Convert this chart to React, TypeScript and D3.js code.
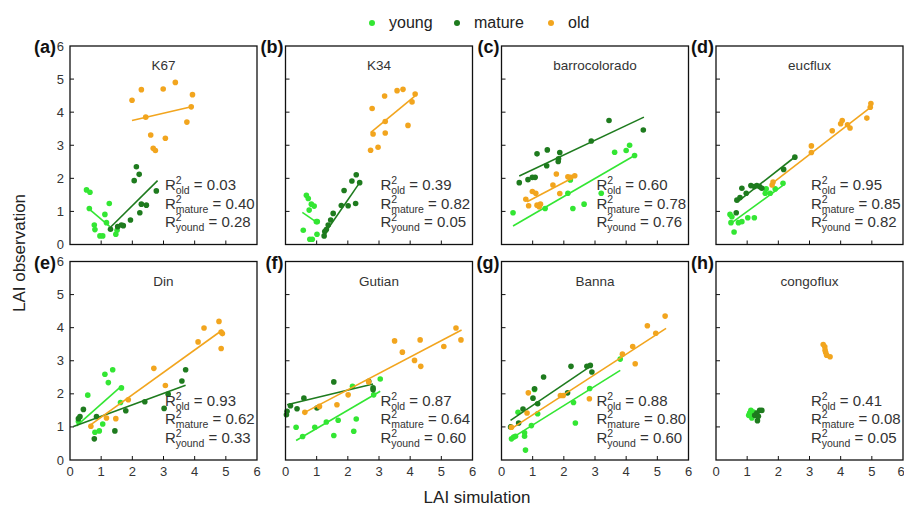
import React from "react";
import { scaleLinear, line } from "d3";

// series
const seriesNames = ["young", "mature", "old"];
const seriesColors = ["#33e633", "#1e7b1e", "#f2a51e"];

const panelLabels = ["(a)", "(b)", "(c)", "(d)", "(e)", "(f)", "(g)", "(h)"];
const siteNames = ["K67", "K34", "barrocolorado", "eucflux", "Din", "Gutian", "Banna", "congoflux"];
const r2Old = ["0.03", "0.39", "0.60", "0.95", "0.93", "0.87", "0.88", "0.41"];
const r2Mature = ["0.40", "0.82", "0.78", "0.85", "0.62", "0.64", "0.80", "0.08"];
const r2Young = ["0.28", "0.05", "0.76", "0.82", "0.33", "0.60", "0.60", "0.05"];
const axisTicks = [0, 1, 2, 3, 4, 5, 6];

// (a) K67
const k67Young = [[0.53, 1.65], [0.64, 1.58], [0.62, 1.09], [0.78, 0.59], [0.8, 0.45], [0.96, 0.26], [1.05, 0.26], [1.12, 0.91], [1.17, 0.66], [1.26, 1.24], [1.47, 0.31], [1.51, 0.43]];
const k67Mature = [[1.3, 0.46], [1.53, 0.54], [1.65, 0.59], [1.71, 0.57], [1.94, 0.74], [2.06, 1.93], [2.13, 2.35], [2.22, 2.12], [2.24, 0.96], [2.29, 1.22], [2.45, 1.19], [2.77, 1.62]];
const k67Old = [[1.99, 4.36], [2.29, 4.68], [2.43, 3.85], [2.59, 3.31], [2.67, 2.91], [2.74, 2.84], [2.99, 4.7], [3.06, 3.21], [3.38, 4.9], [3.75, 3.7], [3.89, 4.16], [3.93, 4.53]];
const k67Fits = [[[0.59, 1.09], [1.28, 0.54]], [[1.3, 0.52], [2.81, 1.93]], [[1.99, 3.75], [3.93, 4.17]]];

// (b) K34
const k34Young = [[0.67, 1.49], [0.73, 1.39], [0.76, 1.04], [0.83, 1.22], [0.92, 1.16], [0.57, 0.43], [0.78, 0.16], [0.86, 0.16], [0.99, 0.69], [1.02, 0.69], [1.01, 0.31]];
const k34Mature = [[1.24, 0.26], [1.26, 0.39], [1.31, 0.45], [1.37, 0.59], [1.45, 0.74], [1.53, 0.94], [1.79, 1.18], [1.88, 1.63], [2.01, 1.17], [2.13, 1.92], [2.27, 2.11], [2.25, 1.24], [2.38, 1.87]];
const k34Old = [[2.78, 4.11], [3.18, 4.49], [3.58, 4.65], [3.77, 4.69], [4.16, 4.55], [4.06, 4.31], [3.93, 3.6], [3.2, 3.37], [3.2, 3.72], [2.81, 3.34], [2.73, 2.85], [2.97, 2.94]];
const k34Fits = [[[0.54, 0.97], [1.05, 0.64]], [[1.24, 0.31], [2.38, 1.87]], [[2.73, 3.38], [4.16, 4.49]]];

// (c) barrocolorado
const barroYoung = [[0.37, 0.96], [1.4, 1.09], [2.13, 1.55], [2.21, 1.95], [2.29, 1.09], [2.65, 1.22], [3.2, 1.55], [3.63, 2.79], [4.0, 2.84], [4.11, 3.0], [4.27, 2.69]];
const barroMature = [[0.57, 1.87], [0.85, 1.96], [0.99, 2.03], [1.08, 2.03], [1.14, 2.74], [1.45, 2.38], [1.47, 2.86], [1.82, 2.51], [1.87, 2.78], [1.83, 2.59], [2.88, 3.13], [3.45, 3.75], [4.55, 3.46]];
const barroOld = [[0.78, 1.37], [0.87, 1.17], [0.99, 1.6], [1.1, 1.55], [1.14, 1.19], [1.25, 1.22], [1.21, 1.14], [1.65, 1.8], [1.76, 2.13], [1.87, 1.54], [2.13, 2.05], [2.22, 2.03], [2.35, 2.08]];
const barroFits = [[[0.37, 0.56], [4.27, 2.69]], [[0.57, 2.07], [4.57, 3.85]], [[0.82, 1.29], [2.29, 2.02]]];

// (d) eucflux
const eucYoung = [[0.45, 0.91], [0.51, 0.84], [0.48, 0.66], [0.58, 0.38], [0.72, 0.66], [0.83, 0.69], [1.02, 0.81], [1.23, 0.81], [1.61, 1.68], [1.74, 1.55], [1.9, 1.68], [2.15, 1.85], [1.58, 1.55]];
const eucMature = [[0.67, 1.34], [0.77, 1.42], [0.83, 1.7], [0.97, 1.55], [1.12, 1.78], [1.23, 1.75], [1.31, 1.78], [1.4, 1.75], [1.47, 1.7], [2.17, 2.27], [2.53, 2.64], [0.65, 0.96]];
const eucOld = [[1.8, 1.8], [1.83, 1.89], [3.06, 2.98], [3.06, 2.78], [3.73, 3.44], [4.0, 3.65], [4.05, 3.75], [4.22, 3.62], [4.3, 3.52], [4.97, 4.26], [4.95, 4.15], [4.84, 3.82]];
const eucFits = [[[0.51, 0.66], [2.17, 1.8]], [[0.69, 1.29], [2.55, 2.66]], [[1.74, 1.8], [4.99, 4.17]]];

// (e) Din
const dinYoung = [[0.27, 1.16], [0.57, 1.96], [0.8, 0.84], [0.94, 0.88], [1.05, 1.09], [1.12, 2.59], [1.23, 2.34], [1.37, 2.73], [1.62, 1.74], [1.65, 2.18]];
const dinMature = [[0.27, 1.25], [0.32, 1.31], [0.43, 1.53], [0.85, 1.31], [0.78, 0.64], [1.44, 0.88], [1.79, 1.49], [2.4, 1.76], [3.02, 1.56], [3.15, 1.99], [3.59, 2.39], [3.71, 2.73]];
const dinOld = [[0.67, 1.02], [1.17, 1.27], [1.47, 1.25], [1.87, 1.82], [2.69, 2.77], [3.06, 2.25], [4.11, 3.57], [4.3, 3.99], [4.78, 4.19], [4.85, 3.87], [4.89, 3.82], [4.85, 3.37]];
const dinFits = [[[0.21, 1.03], [1.65, 2.23]], [[0.11, 1.01], [3.71, 2.26]], [[0.67, 1.07], [4.89, 3.93]]];

// (f) Gutian
const gutianYoung = [[0.34, 0.99], [0.94, 0.99], [1.31, 1.15], [1.69, 1.2], [1.55, 0.74], [2.15, 2.23], [2.19, 0.87], [2.27, 1.24], [2.83, 1.97], [3.04, 2.45], [0.55, 0.71]];
const gutianMature = [[0.05, 1.47], [0.16, 1.64], [0.37, 1.55], [0.59, 1.87], [1.01, 1.57], [1.55, 2.36], [2.67, 2.38], [2.81, 2.18], [2.81, 2.12], [0.03, 1.37]];
const gutianOld = [[0.62, 1.44], [1.09, 1.62], [1.65, 1.67], [2.01, 1.97], [2.67, 2.36], [3.5, 3.6], [3.75, 3.26], [4.14, 3.01], [4.32, 3.63], [4.34, 2.83], [5.08, 3.43], [5.47, 3.99], [5.63, 3.63]];
const gutianFits = [[[0.34, 0.59], [3.04, 2.08]], [[0.05, 1.67], [2.81, 2.3]], [[0.62, 1.44], [5.65, 3.93]]];

// (g) Banna
const bannaYoung = [[0.32, 0.64], [0.39, 0.69], [0.45, 0.72], [0.53, 1.44], [0.74, 0.82], [0.74, 0.72], [0.77, 0.3], [0.96, 1.04], [1.06, 2.13], [1.16, 1.4], [2.31, 1.74], [2.37, 1.12], [2.83, 2.16], [3.81, 3.05]];
const bannaMature = [[0.55, 1.12], [0.69, 1.54], [1.01, 1.87], [1.06, 2.15], [1.16, 1.7], [1.35, 2.51], [2.12, 2.03], [2.23, 2.83], [2.74, 2.83], [2.85, 2.86], [2.9, 2.66], [0.29, 1.0]];
const bannaOld = [[0.32, 0.99], [0.82, 1.42], [0.86, 2.03], [1.89, 1.95], [1.98, 1.95], [2.82, 1.85], [3.88, 3.2], [4.29, 2.91], [4.21, 3.43], [4.68, 4.06], [4.95, 3.83], [5.25, 4.35]];
const bannaFits = [[[0.29, 0.64], [3.81, 2.71]], [[0.29, 1.2], [2.85, 2.83]], [[0.27, 0.92], [5.28, 3.98]]];

// (h) congoflux
const congoYoung = [[1.08, 1.42], [1.12, 1.5], [1.15, 1.27], [1.05, 1.35], [1.2, 1.45]];
const congoMature = [[1.31, 1.42], [1.4, 1.5], [1.47, 1.5], [1.33, 1.19], [1.24, 1.35], [1.36, 1.32]];
const congoOld = [[3.44, 3.49], [3.49, 3.42], [3.52, 3.25], [3.55, 3.17], [3.66, 3.12], [3.5, 3.32]];
const congoFits = [null, null, null];

const panelSeries = [
  [k67Young, k67Mature, k67Old],
  [k34Young, k34Mature, k34Old],
  [barroYoung, barroMature, barroOld],
  [eucYoung, eucMature, eucOld],
  [dinYoung, dinMature, dinOld],
  [gutianYoung, gutianMature, gutianOld],
  [bannaYoung, bannaMature, bannaOld],
  [congoYoung, congoMature, congoOld],
];
const panelFits = [k67Fits, k34Fits, barroFits, eucFits, dinFits, gutianFits, bannaFits, congoFits];

const font = "'Liberation Sans', Arial, sans-serif";
const colLeft = [70, 285.5, 501.5, 716];
const rowTop = [46, 261.5];
const pw = 187;
const ph = 198.5;

function R2Line({ x, y, sub, value }) {
  return (
    <text x={x} y={y} fontSize={15} fill="#333">
      <tspan>R</tspan>
      <tspan dy={-6} fontSize={10.5}>2</tspan>
      <tspan dx={-6} dy={10} fontSize={10.5}>{sub}</tspan>
      <tspan dy={-4}>{" = " + value}</tspan>
    </text>
  );
}

function Panel({ i }) {
  const col = i % 4;
  const row = Math.floor(i / 4);
  const left = colLeft[col];
  const top = rowTop[row];
  const x = scaleLinear().domain([0, 6]).range([left, left + pw]);
  const y = scaleLinear().domain([0, 6]).range([top + ph, top]);
  const lineGen = line<number[]>()
    .x((d) => x(d[0]))
    .y((d) => y(d[1]));
  const series = panelSeries[i];
  const fits = panelFits[i];
  return (
    <g>
      {series.map((pts, s) => (
        <g key={s}>
          {pts.map((p, k) => (
            <circle key={k} cx={x(p[0])} cy={y(p[1])} r={2.8} fill={seriesColors[s]} />
          ))}
          {fits[s] && (
            <path d={lineGen(fits[s]) || ""} fill="none" stroke={seriesColors[s]} strokeWidth={1.6} />
          )}
        </g>
      ))}
      <rect x={left} y={top} width={pw} height={ph} fill="none" stroke="#111" strokeWidth={1.3} />
      {axisTicks.slice(1, 6).map((t) => (
        <g key={t}>
          <line x1={left} x2={left + 4} y1={y(t)} y2={y(t)} stroke="#111" strokeWidth={1} />
          <line x1={x(t)} x2={x(t)} y1={top + ph} y2={top + ph - 4} stroke="#111" strokeWidth={1} />
        </g>
      ))}
      {col === 0 &&
        axisTicks.map((t) => (
          <text key={t} x={left - 6} y={y(t) + 4.5} fontSize={13} textAnchor="end" fill="#333">
            {t}
          </text>
        ))}
      {row === 1 &&
        axisTicks.map((t) => (
          <text key={t} x={t === 6 && col === 3 ? x(t) - 2 : x(t)} y={top + ph + 16} fontSize={13} textAnchor="middle" fill="#333">
            {t}
          </text>
        ))}
      <text
        x={col === 0 ? left - 14 : left - 2}
        y={top + 7}
        fontSize={18}
        fontWeight="bold"
        textAnchor="end"
        fill="#111"
      >
        {panelLabels[i]}
      </text>
      <text x={left + pw / 2} y={top + 24} fontSize={13.5} textAnchor="middle" fill="#333">
        {siteNames[i]}
      </text>
      <R2Line x={left + 95} y={top + 144} sub="old" value={r2Old[i]} />
      <R2Line x={left + 95} y={top + 162.5} sub="mature" value={r2Mature[i]} />
      <R2Line x={left + 95} y={top + 181} sub="yound" value={r2Young[i]} />
    </g>
  );
}

const legendX = [372, 457, 551];

export default function App() {
  return (
    <div style={{ position: "absolute", left: 0, top: 0 }}>
      <svg width={904} height={509} style={{ fontFamily: font, background: "white", display: "block" }}>
        {seriesNames.map((n, s) => (
          <g key={n}>
            <circle cx={legendX[s]} cy={23} r={3} fill={seriesColors[s]} />
            <text x={legendX[s] + 17} y={28} fontSize={16} fill="#222">
              {n}
            </text>
          </g>
        ))}
        {panelLabels.map((_, i) => (
          <Panel key={i} i={i} />
        ))}
        <text x={477} y={503} fontSize={17} textAnchor="middle" fill="#222">
          LAI simulation
        </text>
        <text transform="translate(25,253) rotate(-90)" fontSize={17} textAnchor="middle" fill="#222">
          LAI observation
        </text>
      </svg>
    </div>
  );
}
